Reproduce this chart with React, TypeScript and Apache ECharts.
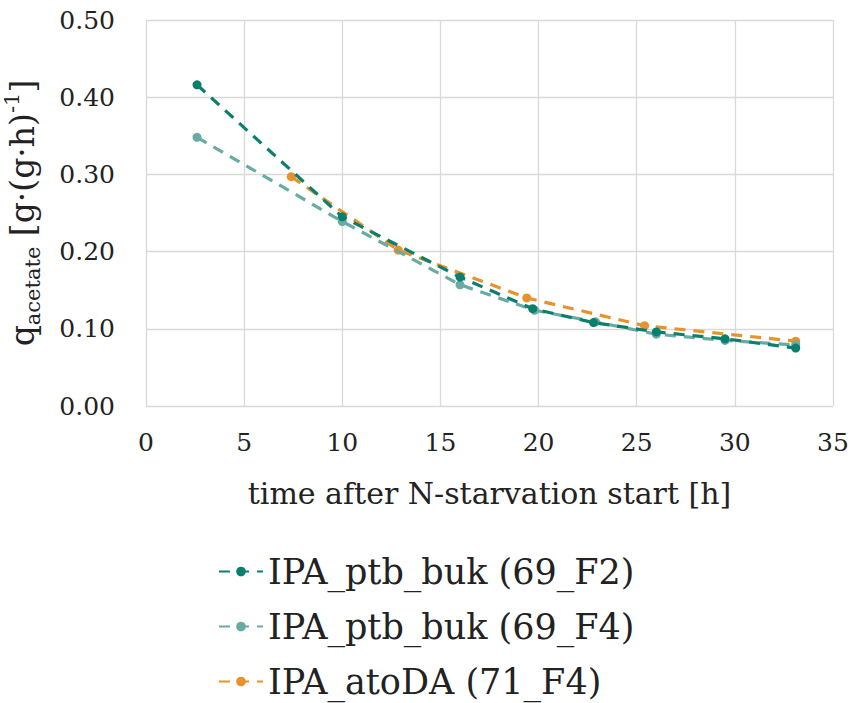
import React, { useEffect, useRef } from "react";
import * as echarts from "echarts";

const seriesNames = ["IPA_ptb_buk (69_F2)", "IPA_ptb_buk (69_F4)", "IPA_atoDA (71_F4)"];
const colors = ["#0b7f6e", "#68aba2", "#e8922c"];
const timeF2 = [2.6, 10.0, 16.0, 19.7, 22.8, 26.0, 29.5, 33.1];
const qF2 = [0.416, 0.245, 0.167, 0.126, 0.108, 0.096, 0.087, 0.075];
const timeF4 = [2.6, 10.0, 16.0, 19.8, 22.9, 26.0, 29.5, 33.1];
const qF4 = [0.348, 0.239, 0.157, 0.124, 0.109, 0.093, 0.085, 0.079];
const time71 = [7.4, 12.85, 19.4, 25.4, 33.1];
const q71 = [0.297, 0.202, 0.140, 0.104, 0.084];
const xTicks = [0, 5, 10, 15, 20, 25, 30, 35];
const yTicks = [0, 0.1, 0.2, 0.3, 0.4, 0.5];

const FONT = "DejaVu Serif";

export default function App() {
  const ref = useRef<HTMLDivElement>(null);
  useEffect(() => {
    const chart = echarts.init(ref.current!, null, { renderer: "svg" });
    const pairs = (xs: number[], ys: number[]) => xs.map((x, i) => [x, ys[i]]);
    const data = [pairs(timeF2, qF2), pairs(timeF4, qF4), pairs(time71, q71)];
    chart.setOption({
      animation: false,
      backgroundColor: "#ffffff",
      grid: { left: 146, right: 20, top: 20, bottom: 297, outerBoundsMode: "none", containLabel: false },
      xAxis: {
        type: "value",
        min: xTicks[0],
        max: xTicks[xTicks.length - 1],
        interval: 5,
        axisLine: { show: false },
        axisTick: { show: false },
        splitLine: { show: true, lineStyle: { color: "#d9d9d9", width: 1.3 } },
        axisLabel: { margin: 24, fontFamily: FONT, fontSize: 25, color: "#222" },
        name: "time after N-starvation start [h]",
        nameLocation: "middle",
        nameGap: 72,
        nameTextStyle: { fontFamily: FONT, fontSize: 30, color: "#222" },
      },
      yAxis: {
        type: "value",
        min: yTicks[0],
        max: yTicks[yTicks.length - 1],
        interval: 0.1,
        axisLine: { show: false },
        axisTick: { show: false },
        splitLine: { show: true, lineStyle: { color: "#d9d9d9", width: 1.3 } },
        axisLabel: {
          margin: 31,
          fontFamily: FONT,
          fontSize: 25,
          color: "#222",
          formatter: (v: number) => v.toFixed(2),
        },
        name: "{q|q}{sub|acetate}{q| [g·(g·h)}{sup|-1}{q|]}",
        nameLocation: "middle",
        nameGap: 103,
        nameTextStyle: {
          fontFamily: FONT,
          color: "#222",
          rich: {
            q: { fontFamily: FONT, fontSize: 33, color: "#222", lineHeight: 42, verticalAlign: "middle" },
            sub: { fontFamily: FONT, fontSize: 21, color: "#222", lineHeight: 42, verticalAlign: "bottom" },
            sup: { fontFamily: FONT, fontSize: 21, color: "#222", lineHeight: 42, verticalAlign: "top" },
          },
        },
      },
      legend: {
        orient: "vertical",
        left: 218,
        top: 554,
        padding: 0,
        itemGap: 20,
        itemWidth: 44,
        itemHeight: 12,
        textStyle: { fontFamily: FONT, fontSize: 35, lineHeight: 35, color: "#222" },
        data: seriesNames,
      },
      series: seriesNames.map((name, i) => ({
        name,
        type: "line",
        data: data[i],
        symbol: "circle",
        symbolSize: 9,
        color: colors[i],
        itemStyle: { color: colors[i] },
        lineStyle: { color: colors[i], width: 3.2, type: [11, 8] },
        z: 3 - i,
      })),
    });
    return () => chart.dispose();
  }, []);
  return <div ref={ref} style={{ position: "fixed", left: 0, top: 0, width: 853, height: 703 }} />;
}
